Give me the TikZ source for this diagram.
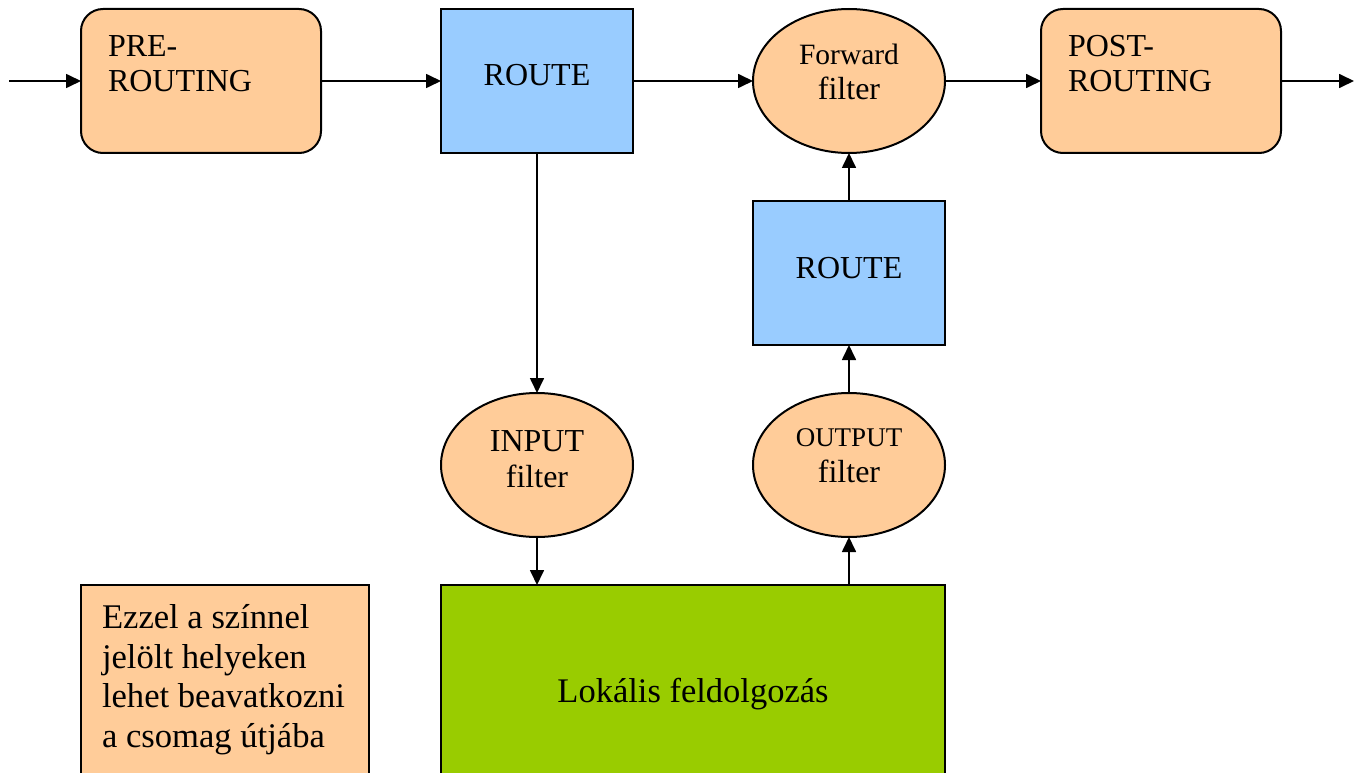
\documentclass[tikz,border=0pt]{standalone}
\usepackage{fontspec}
\setmainfont{Liberation Serif}
\usetikzlibrary{shapes.geometric,arrows.meta,calc}
\definecolor{hookorange}{HTML}{FFCC99}
\definecolor{routeblue}{HTML}{99CCFF}
\definecolor{localgreen}{HTML}{99CC00}
\begin{document}
\begin{tikzpicture}[x=1pt,y=-1pt,
  every node/.style={inner sep=0pt,outer sep=0pt},
  frame/.style={draw=black,line width=2pt},
  hookbox/.style={frame,fill=hookorange,rounded corners=22pt,minimum width=240pt,minimum height=144pt},
  routebox/.style={frame,fill=routeblue,minimum width=192pt,minimum height=144pt},
  filterell/.style={frame,fill=hookorange,ellipse,minimum width=192pt,minimum height=144pt},
  flow/.style={line width=1.7pt,-{Triangle[length=15pt,width=14pt]}},
  big/.style={font=\fontsize{32}{35}\selectfont},
  mid/.style={font=\fontsize{32}{36}\selectfont},
  small/.style={font=\fontsize{27}{30}\selectfont},
  legendtext/.style={font=\fontsize{34.6}{39.7}\selectfont,anchor=base west}
]
\useasboundingbox (0,0) rectangle (1358,773);
\begin{scope}
\clip (0,0) rectangle (1358,773);

% top row
\node[hookbox] (pre) at (201,81) {};
\node[big,anchor=base west] (pretxt1) at (108,57) {PRE-};
\node[big,anchor=base west] (pretxt2) at (108,92) {ROUTING};

\node[routebox] (route1) at (537,81) {};
\node[big,anchor=base] (route1txt) at (537,86) {ROUTE};

\node[filterell] (fwd) at (849,81) {};
\node[font=\fontsize{29.5}{32}\selectfont,anchor=base] (fwdtxt1) at (849,65) {Forward};
\node[mid,anchor=base] (fwdtxt2) at (849,100) {filter};

\node[hookbox] (post) at (1161,81) {};
\node[big,anchor=base west] (posttxt1) at (1068,57) {POST-};
\node[big,anchor=base west] (posttxt2) at (1068,92) {ROUTING};

% local output route
\node[routebox] (route2) at (849,273) {};
\node[big,anchor=base] (route2txt) at (849,278) {ROUTE};

% input / output filters
\node[filterell] (input) at (537,465) {};
\node[mid,anchor=base] (inputtxt1) at (537,451) {INPUT};
\node[mid,anchor=base] (inputtxt2) at (537,487) {filter};

\node[filterell] (output) at (849,465) {};
\node[small,anchor=base] (outputtxt1) at (849,446) {OUTPUT};
\node[mid,anchor=base] (outputtxt2) at (849,482) {filter};

% local processing
\node[frame,fill=localgreen,minimum width=504pt,minimum height=212pt] (local) at (693,691) {};
\node[font=\fontsize{34.5}{38}\selectfont,anchor=base] (localtxt) at (693,702) {Lokális feldolgozás};

% legend
\node[frame,fill=hookorange,minimum width=288pt,minimum height=212pt] (legend) at (225,691) {};
\node[legendtext] (leg1) at (102,628) {Ezzel a színnel};
\node[legendtext] (leg2) at (102,668) {jelölt helyeken};
\node[legendtext] (leg3) at (102,707) {lehet beavatkozni};
\node[legendtext] (leg4) at (102,747) {a csomag útjába};
\end{scope}

% connectors
\coordinate (inflow) at (9,81);
\coordinate (outflow) at (1354,81);
\draw[flow] (inflow) -- (pre.west);
\draw[flow] (pre.east) -- (route1.west);
\draw[flow] (route1.east) -- (fwd.west);
\draw[flow] (fwd.east) -- (post.west);
\draw[flow] (post.east) -- (outflow);
\draw[flow] (route1.south) -- (input.north);
\draw[flow] (input.south) -- (input.south |- local.north);
\draw[flow] (output.south |- local.north) -- (output.south);
\draw[flow] (output.north) -- (route2.south);
\draw[flow] (route2.north) -- (fwd.south);
\end{tikzpicture}
\end{document}
